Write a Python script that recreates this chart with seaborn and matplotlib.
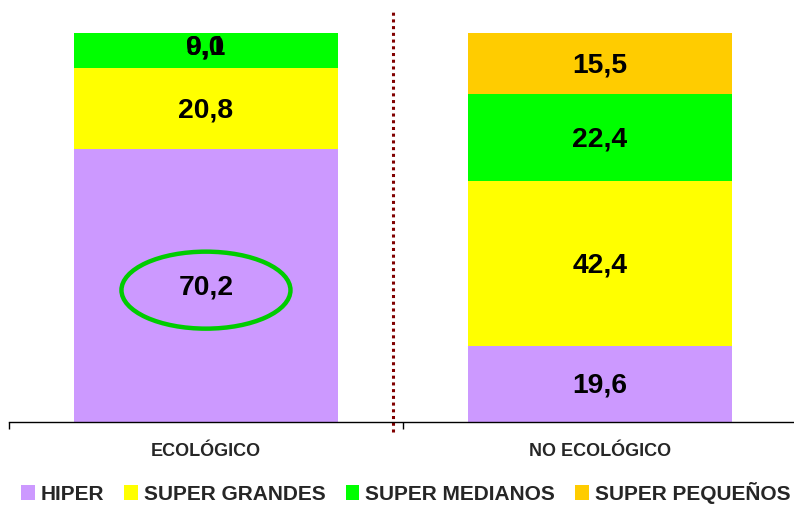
import pandas as pd
import matplotlib.pyplot as plt
import seaborn as sns
from matplotlib.patches import Ellipse, Patch


categories = ["ECOLÓGICO", "NO ECOLÓGICO"]
series = ["HIPER", "SUPER GRANDES", "SUPER MEDIANOS", "SUPER PEQUEÑOS"]
hiper = [70.2, 19.6]
super_grandes = [20.8, 42.4]
super_medianos = [9.1, 22.4]
super_pequenos = [0.0, 15.5]

colors = ["#CC99FF", "#FFFF00", "#00FF00", "#FFCC00"]


def stacked_chart():

    values = [hiper, super_grandes, super_medianos, super_pequenos]

    df = pd.DataFrame(
        {name: vals for name, vals in zip(series, values)},
        index=categories
    )
    cum = df.cumsum(axis=1)

    sns.set_style("white")
    plt.rcParams["font.family"] = ["Liberation Sans", "DejaVu Sans"]
    plt.rcParams["font.weight"] = "bold"

    fig = plt.figure(figsize=(7.94, 5.07), dpi=100)
    ax = fig.add_axes([0.0113, 0.1677, 0.9924, 0.767])

    # draw cumulative totals from the top down so the bars stack
    for name, color in reversed(list(zip(series, colors))):
        sns.barplot(
            x=categories,
            y=cum[name].values,
            color=color,
            width=0.67,
            saturation=1,
            linewidth=0,
            ax=ax
        )

    # value labels in the middle of each segment
    # (small segments at the very top share one spot, as in the original)
    for i, cat in enumerate(categories):
        start = 0
        for name in series:
            v = df.loc[cat, name]
            ypos = start + v / 2
            if ypos > 95:
                ypos = 96.9
            ax.text(
                i, ypos - 0.5, f"{v:.1f}".replace(".", ","),
                ha="center", va="center",
                fontsize=20.3, fontweight="bold", color="black"
            )
            start += v

    ax.add_patch(Ellipse(
        (0, 33.9), 0.429, 19.8,
        fill=False, edgecolor="#00CC00", linewidth=3.2
    ))

    ax.plot(
        [0.475, 0.475], [-2.6, 105.9],
        color="#800000", linewidth=2.2,
        linestyle=(0, (1, 1.2)), clip_on=False
    )

    ax.set_xlim(-0.5, 1.5)
    ax.set_ylim(0, 100)
    ax.set_yticks([])
    ax.set_ylabel("")

    ax.set_xticks([0, 1])
    ax.set_xticklabels(categories, fontsize=13, fontweight="bold")
    ax.tick_params(axis="x", which="major", length=0, pad=15)
    ax.set_xticks([-0.5, 0.5, 1.5], minor=True)
    ax.tick_params(axis="x", which="minor", length=5, width=1,
                   color="black", direction="out", bottom=True)

    for side in ["top", "left", "right"]:
        ax.spines[side].set_visible(False)
    ax.spines["bottom"].set_color("black")
    ax.spines["bottom"].set_linewidth(1)

    handles = [Patch(facecolor=c, edgecolor="none") for c in colors]
    fig.legend(
        handles, series,
        loc="center", bbox_to_anchor=(0.511, 0.028),
        ncol=4, frameon=False,
        prop={"size": 15, "weight": "bold"},
        handlelength=0.65, handleheight=0.75,
        handletextpad=0.3, columnspacing=0.95
    )

    fig.savefig("out.png", dpi=100)


stacked_chart()
